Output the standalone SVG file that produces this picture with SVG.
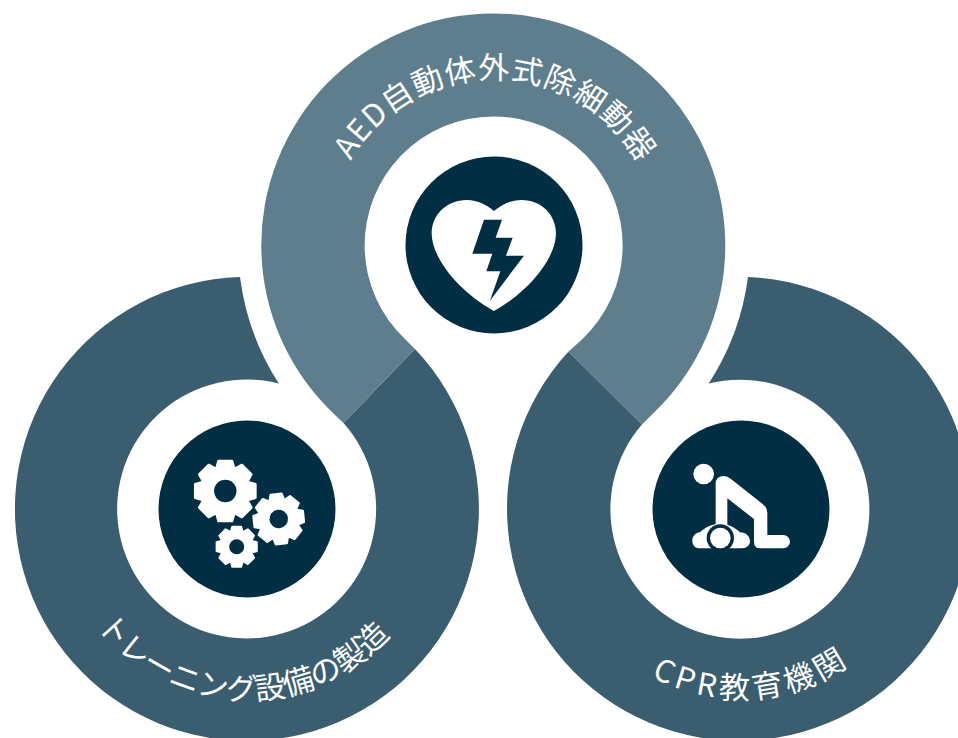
<svg xmlns="http://www.w3.org/2000/svg" width="958" height="738" viewBox="0 0 958 738">
<style>
.top{fill:#5e7e8e}
.low{fill:#3a5d6f}
.disc{fill:#012e42}
.icon{fill:#fff}
.dark{fill:#012e42}
.lbl{font-family:"Noto Sans CJK JP","Noto Sans",sans-serif;font-size:31px;font-weight:400;fill:#fff;text-anchor:middle}
</style>
<defs>
<path id="pTop" d="M328 245A166 166 0 0 1 660 245"/>
<path id="pLeft" d="M56 509A191 191 0 0 0 438 509"/>
<path id="pRight" d="M550.500 509A190 190 0 0 0 930.500 509"/>
<g id="tooth"><path class="icon" d="M-28-70L-21-94H21L28-70Z" stroke="#fff" stroke-width="8" stroke-linejoin="round"/></g>
<g id="gear">
<circle class="icon" r="80"/>
<use href="#tooth"/><use href="#tooth" transform="rotate(45)"/><use href="#tooth" transform="rotate(90)"/><use href="#tooth" transform="rotate(135)"/>
<use href="#tooth" transform="rotate(180)"/><use href="#tooth" transform="rotate(225)"/><use href="#tooth" transform="rotate(270)"/><use href="#tooth" transform="rotate(315)"/>
<circle class="dark" r="35"/>
</g>
</defs>
<rect width="958" height="738" fill="#fff"/>
<g id="node-training">
<path class="low" d="M415 349A232 232 0 1 1 240 277A256 256 0 0 0 278.800 383.500A129.500 129.500 0 1 0 343.500 423Z"/>
<circle class="disc" cx="247" cy="509" r="88.500"/>
<use href="#gear" transform="translate(225.300 491) scale(.32)"/>
<use href="#gear" transform="translate(278.700 519) rotate(-6) scale(.265)"/>
<use href="#gear" transform="translate(236.700 546.700) scale(.215)"/>
<text class="lbl" letter-spacing="-.5"><textPath href="#pLeft" startOffset="49%">トレーニング設備の製造</textPath></text>
</g>
<g id="node-cpr">
<path class="low" d="M568.500 351.500A232 232 0 1 0 748 277A256 256 0 0 1 708.700 383.500A129.500 129.500 0 1 1 642 424.400Z"/>
<circle class="disc" cx="741" cy="509" r="88.500"/>
<g transform="translate(650 420) scale(.3333)">
<circle class="icon" cx="161" cy="162" r="31"/>
<path class="icon" d="M197 320V192Q197 168 222 168Q232 168 242 176L338 252Q352 262 352 280V345H400A20 20 0 0 1 400 385H332Q312 385 312 365V297L232 235V320Z"/>
<path class="icon" d="M150 385C135 385 127 375 127 362C127 348 138 338 150 337C165 322 185 311 210 311C235 311 255 322 270 337C288 337 300 350 300 364C300 376 290 385 276 385Z"/>
<circle class="dark" cx="211" cy="354" r="41"/>
<circle class="icon" cx="211" cy="354" r="31"/>
</g>
<text class="lbl" letter-spacing="4"><textPath href="#pRight" startOffset="52.100%">CPR教育機関</textPath></text>
</g>
<g id="node-aed">
<path class="top" d="M405.500 339.600A129 129 0 1 1 582 339.400L568.500 351.500L642 424.400L652 414.600A232 232 0 1 0 335 415L343.500 423L415 349Z"/>
<circle class="disc" cx="494" cy="245" r="88.500"/>
<g transform="translate(400 150) scale(.3333)">
<path class="icon" d="M282 183C260 165 235 150 200 150C140 150 95 195 95 250C95 320 170 420 282 483C394 420 468 320 468 250C468 195 425 150 365 150C330 150 304 165 282 183Z"/>
<path class="dark" d="M252 209H306L287 263H338L318 317H372L270 452L301 364H259L277 311H217Z"/>
</g>
<text class="lbl" letter-spacing=".9"><textPath href="#pTop" startOffset="50.300%">AED自動体外式除細動器</textPath></text>
</g>
</svg>
